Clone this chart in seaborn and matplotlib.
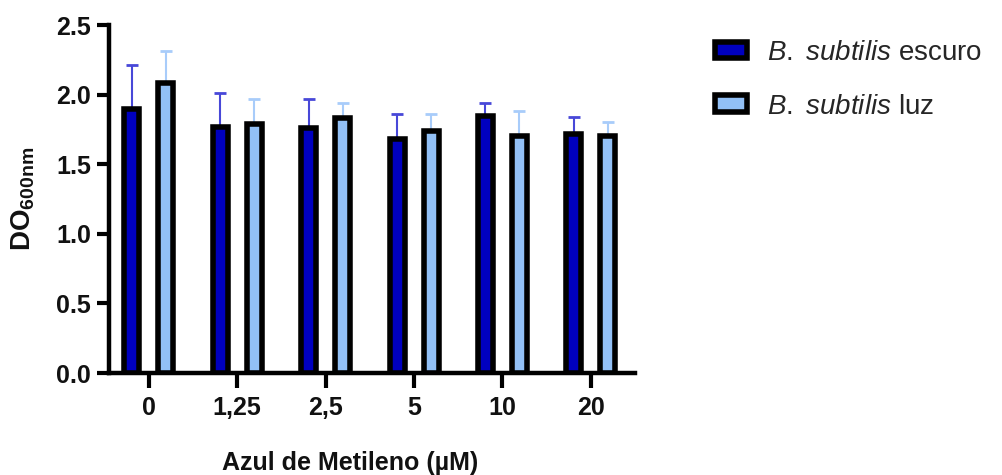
import matplotlib
matplotlib.use("Agg")
import matplotlib.pyplot as plt
import numpy as np
import pandas as pd
import seaborn as sns
from matplotlib.patches import Patch

# Concentrations of methylene blue (µM) and OD600 readings (mean, SD)
concentrations = ["0", "1,25", "2,5", "5", "10", "20"]
series_names = ["escuro", "luz"]
dark_mean = [1.90, 1.77, 1.76, 1.68, 1.85, 1.72]
dark_sd = [0.31, 0.24, 0.21, 0.18, 0.09, 0.12]
light_mean = [2.08, 1.79, 1.83, 1.74, 1.70, 1.70]
light_sd = [0.23, 0.18, 0.11, 0.12, 0.18, 0.10]

bar_colors = ["#0000BF", "#92C0F6"]
err_colors = ["#4848D8", "#A8CCFA"]

sns.set_theme(style="ticks")
plt.rcParams["font.family"] = ["Liberation Sans", "DejaVu Sans"]
plt.rcParams["mathtext.fontset"] = "custom"
plt.rcParams["mathtext.rm"] = "Liberation Sans"
plt.rcParams["mathtext.it"] = "Liberation Sans:italic"
plt.rcParams["mathtext.bf"] = "Liberation Sans:bold"

df = pd.DataFrame({
    "conc": concentrations * 2,
    "cond": [series_names[0]] * len(concentrations) + [series_names[1]] * len(concentrations),
    "od": dark_mean + light_mean,
})

fig = plt.figure(figsize=(10.02, 4.75), dpi=100)
ax = fig.add_axes([0.1088, 0.2147, 0.525, 0.7326])

sns.barplot(data=df, x="conc", y="od", hue="cond", order=concentrations,
            hue_order=series_names, palette=bar_colors, saturation=1,
            width=0.77, gap=0.56, edgecolor="black", linewidth=4.0,
            errorbar=None, legend=False, ax=ax, zorder=3)

# upward-only SD whiskers, drawn behind the bars
n = len(concentrations)
for k, (means, sds) in enumerate([(dark_mean, dark_sd), (light_mean, light_sd)]):
    patches = ax.patches[k * n:(k + 1) * n]
    xs = [p.get_x() + p.get_width() / 2 for p in patches]
    ax.errorbar(xs, means, yerr=[np.zeros(n), sds], fmt="none",
                ecolor=err_colors[k], elinewidth=1.5, capsize=4.3,
                capthick=2.0, zorder=2)

ax.set_xlim(-0.45, 5.50)
ax.set_ylim(0, 2.5)
ax.set_yticks([0.0, 0.5, 1.0, 1.5, 2.0, 2.5])
ax.set_yticklabels(["0.0", "0.5", "1.0", "1.5", "2.0", "2.5"])
sns.despine(ax=ax)
for s in ["left", "bottom"]:
    ax.spines[s].set_linewidth(3.2)
    ax.spines[s].set_color("black")
ax.tick_params(axis="y", length=9, width=3.0, color="black", labelsize=18, pad=4)
ax.tick_params(axis="x", length=10.5, width=3.0, color="black", labelsize=18, pad=6)
for lab in ax.get_xticklabels() + ax.get_yticklabels():
    lab.set_fontweight("bold")
    lab.set_color("#111111")

ax.set_xlabel("Azul de Metileno (µM)", fontsize=18, fontweight="bold",
              color="#111111")
ax.xaxis.set_label_coords(0.458, -0.225)
ax.set_ylabel(r"$\mathbf{DO_{600nm}}$", fontsize=20, color="#111111")
ax.yaxis.set_label_coords(-0.136, 0.5)

handles = [Patch(facecolor=c, edgecolor="black", linewidth=4.0) for c in bar_colors]
labels = [r"$\it{B.\ subtilis}$ " + s for s in series_names]
fig.legend(handles, labels, loc="upper left", bbox_to_anchor=(0.7133, 0.916),
           frameon=False, fontsize=20, handlelength=1.17, handleheight=0.55,
           handletextpad=0.7, labelspacing=1.0, borderpad=0, borderaxespad=0)

fig.savefig("out.png", dpi=100)
